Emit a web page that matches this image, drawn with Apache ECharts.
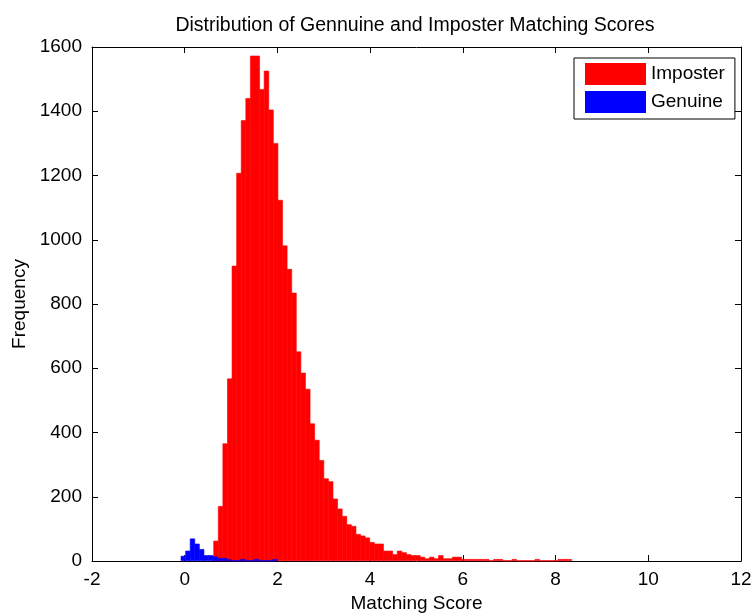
<!DOCTYPE html>
<html>
<head>
<meta charset="utf-8">
<script src="https://cdn.jsdelivr.net/npm/echarts@6/dist/echarts.min.js"></script>
<style>
html,body{margin:0;padding:0;background:#fff;}
#chart{width:756px;height:613px;}
</style>
</head>
<body>
<div id="chart"></div>
<script>
// ---- data ----
const titleText = 'Distribution of Gennuine and Imposter Matching Scores';
const xAxisName = 'Matching Score';
const yAxisName = 'Frequency';
const seriesNames = ['Imposter', 'Genuine'];

const binWidth = 0.0990;
const imposterStart = 0.625;
const imposterCounts = [62,170,365,567,918,1207,1371,1440,1572,1572,
  1468,1525,1404,1300,1123,981,908,834,651,585,
  535,427,376,313,256,247,193,162,139,113,
  108,83,78,72,58,53,53,31,31,20,
  31,26,20,17,17,12,7,12,7,17,
  7,7,12,12,5,5,5,5,5,5,
  0,5,5,0,0,5,0,0,0,0,
  5,0,0,0,0,5,5,5];

const genuineStart = -0.080;
const genuineCounts = [15,31,69,53,36,17,17,13,8,8,
  4,0,0,5,0,0,5,0,0,0,5];

const xTicks = {min:-2, max:12, interval:2};
const yTicks = {min:0, max:1600, interval:200};

// ---- build ----
function bins(start, counts) {
  return counts.map((c, i) => [start + i * binWidth, start + (i + 1) * binWidth, c]);
}
const FONT = "'Liberation Sans', Arial, Helvetica, sans-serif";

function renderItem(params, api) {
  const p0 = api.coord([api.value(0), api.value(2)]);
  const p1 = api.coord([api.value(1), 0]);
  const st = api.style();
  st.stroke = st.fill;
  st.lineWidth = 0.6;
  return {
    type: 'rect',
    shape: {x: p0[0], y: p0[1], width: p1[0] - p0[0], height: p1[1] - p0[1] - 0.3},
    style: st
  };
}

const axisCommon = {
  axisLine: {show: true, onZero: false, lineStyle: {color: '#000', width: 1}},
  axisTick: {show: true, inside: true, length: 6, lineStyle: {color: '#000'}},
  splitLine: {show: false}
};
const labelStyle = {fontSize: 19, color: '#000', fontFamily: FONT};

const chart = echarts.init(document.getElementById('chart'), null, {renderer: 'canvas'});
chart.setOption({
  animation: false,
  backgroundColor: '#fff',
  title: {
    text: titleText,
    left: 415,
    textAlign: 'center',
    top: 16,
    padding: 0,
    textStyle: {fontSize: 19.5, fontWeight: 'normal', color: '#000', fontFamily: FONT}
  },
  legend: {
    orient: 'vertical',
    left: 574,
    top: 58,
    padding: [5, 10, 6, 11],
    itemWidth: 61,
    itemHeight: 22,
    itemGap: 6,
    icon: 'rect',
    borderColor: '#000',
    borderWidth: 1,
    backgroundColor: '#fff',
    data: seriesNames,
    textStyle: {fontSize: 19, color: '#000', fontFamily: FONT}
  },
  grid: {left: 92, top: 47, width: 649, height: 514, containLabel: false, outerBoundsMode: 'none'},
  xAxis: [
    Object.assign({
      type: 'value', position: 'bottom',
      min: xTicks.min, max: xTicks.max, interval: xTicks.interval,
      axisLabel: Object.assign({margin: 9}, labelStyle),
      name: xAxisName, nameLocation: 'middle', nameGap: 33,
      nameTextStyle: labelStyle
    }, axisCommon),
    Object.assign({
      type: 'value', position: 'top',
      min: xTicks.min, max: xTicks.max, interval: xTicks.interval,
      axisLabel: {show: false}
    }, axisCommon)
  ],
  yAxis: [
    Object.assign({
      type: 'value', position: 'left',
      min: yTicks.min, max: yTicks.max, interval: yTicks.interval,
      axisLabel: Object.assign({margin: 10, formatter: v => String(v)}, labelStyle),
      name: yAxisName, nameLocation: 'middle', nameGap: 57,
      nameTextStyle: labelStyle
    }, axisCommon),
    Object.assign({
      type: 'value', position: 'right',
      min: yTicks.min, max: yTicks.max, interval: yTicks.interval,
      axisLabel: {show: false}
    }, axisCommon)
  ],
  series: [
    {
      name: seriesNames[0], type: 'custom', renderItem: renderItem,
      xAxisIndex: 0, yAxisIndex: 0,
      itemStyle: {color: '#ff0000'},
      encode: {x: [0, 1], y: 2},
      data: bins(imposterStart, imposterCounts)
    },
    {
      name: seriesNames[1], type: 'custom', renderItem: renderItem,
      xAxisIndex: 0, yAxisIndex: 0,
      itemStyle: {color: '#0000ff'},
      encode: {x: [0, 1], y: 2},
      data: bins(genuineStart, genuineCounts)
    }
  ]
});
</script>
</body>
</html>
